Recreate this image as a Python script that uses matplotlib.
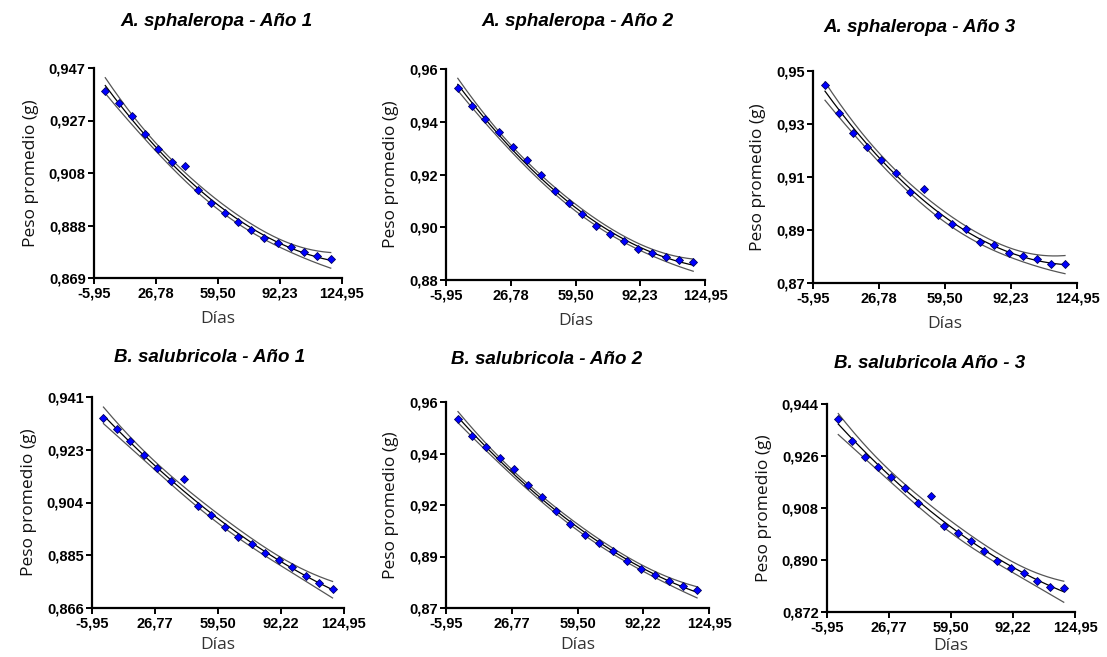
import numpy as np
import matplotlib
matplotlib.use("Agg")
import matplotlib.pyplot as plt

# sampling days (same for every panel)
dias = [0, 7, 14, 21, 28, 35, 42, 49, 56, 63, 70, 77, 84, 91, 98, 105, 112, 119]

# mean weight (g)
sph_1 = [0.9383, 0.9340, 0.9293, 0.9224, 0.9169, 0.9120, 0.9105, 0.9017, 0.8970,
         0.8933, 0.8897, 0.8868, 0.8839, 0.8821, 0.8804, 0.8785, 0.8770, 0.8762]
sph_2 = [0.9528, 0.9461, 0.9410, 0.9362, 0.9306, 0.9254, 0.9197, 0.9137, 0.9092,
         0.9050, 0.9006, 0.8976, 0.8949, 0.8919, 0.8901, 0.8886, 0.8875, 0.8867]
sph_3 = [0.9446, 0.9340, 0.9267, 0.9214, 0.9166, 0.9114, 0.9045, 0.9056, 0.8955,
         0.8924, 0.8902, 0.8853, 0.8842, 0.8812, 0.8800, 0.8790, 0.8771, 0.8771]
sal_1 = [0.9334, 0.9295, 0.9252, 0.9204, 0.9158, 0.9113, 0.9120, 0.9024, 0.8989,
         0.8948, 0.8914, 0.8887, 0.8856, 0.8832, 0.8807, 0.8775, 0.8748, 0.8729]
sal_2 = [0.9524, 0.9450, 0.9403, 0.9356, 0.9306, 0.9238, 0.9185, 0.9125, 0.9065,
         0.9017, 0.8986, 0.8948, 0.8907, 0.8869, 0.8843, 0.8818, 0.8798, 0.8777]
sal_3 = [0.9388, 0.9311, 0.9256, 0.9222, 0.9188, 0.9148, 0.9097, 0.9121, 0.9019,
         0.8995, 0.8965, 0.8930, 0.8897, 0.8873, 0.8854, 0.8826, 0.8807, 0.8802]

titles = ["A. sphaleropa - Año 1", "A. sphaleropa - Año 2", "A. sphaleropa - Año 3",
          "B. salubricola - Año 1", "B. salubricola - Año 2", "B. salubricola Año - 3"]

y_limits = [(0.869, 0.947), (0.88, 0.96), (0.87, 0.95),
            (0.866, 0.941), (0.87, 0.96), (0.872, 0.944)]
y_ticklabels = [
    ["0,869", "0,888", "0,908", "0,927", "0,947"],
    ["0,88", "0,90", "0,92", "0,94", "0,96"],
    ["0,87", "0,89", "0,91", "0,93", "0,95"],
    ["0,866", "0,885", "0,904", "0,923", "0,941"],
    ["0,87", "0,89", "0,92", "0,94", "0,96"],
    ["0,872", "0,890", "0,908", "0,926", "0,944"],
]
x_limits = (-5.95, 124.95)
x_ticklabels_top = ["-5,95", "26,78", "59,50", "92,23", "124,95"]
x_ticklabels_bot = ["-5,95", "26,77", "59,50", "92,22", "124,95"]

# axes boxes in pixels: left, top, right, bottom
W, H = 1107, 657
boxes = [(94, 68, 342, 278), (446, 69, 705, 280), (813, 71, 1077, 283),
         (92, 397, 344, 608), (446, 402, 709, 608), (827, 404, 1075, 612)]
title_pos = [(216, 22), (577, 22), (919, 27), (210, 357), (547, 360), (930, 364)]
xlabel_pad = [8, 8, 8, 5, 5, 3]

T_BAND = 3.4  # t multiplier for the confidence band of the fit


def quad_fit(x, y, grid):
    x = np.asarray(x, float)
    y = np.asarray(y, float)
    X = np.column_stack([np.ones_like(x), x, x ** 2])
    beta, *_ = np.linalg.lstsq(X, y, rcond=None)
    resid = y - X @ beta
    s = np.sqrt(resid @ resid / (len(x) - 3))
    G = np.column_stack([np.ones_like(grid), grid, grid ** 2])
    cov = np.linalg.inv(X.T @ X)
    se = s * np.sqrt(np.einsum("ij,jk,ik->i", G, cov, G))
    fit = G @ beta
    return fit, fit - T_BAND * se, fit + T_BAND * se


fig = plt.figure(figsize=(W / 100, H / 100), dpi=100)
series = [sph_1, sph_2, sph_3, sal_1, sal_2, sal_3]
grid = np.linspace(min(dias), max(dias), 200)

for i, (peso, box) in enumerate(zip(series, boxes)):
    l, t, r, b = box
    ax = fig.add_axes([l / W, 1 - b / H, (r - l) / W, (b - t) / H])
    fit, lo, hi = quad_fit(dias, peso, grid)
    ax.plot(grid, hi, color="#555555", lw=0.9)
    ax.plot(grid, lo, color="#555555", lw=0.9)
    ax.plot(grid, fit, color="black", lw=0.9)
    ax.plot(dias, peso, ls="none", marker="D", ms=4.2, mfc="#0000ff",
            mec="#000060", mew=0.6)

    ax.set_xlim(*x_limits)
    ax.set_ylim(*y_limits[i])
    ax.set_xticks(np.linspace(*x_limits, 5))
    ax.set_xticklabels(x_ticklabels_top if i < 3 else x_ticklabels_bot)
    ax.set_yticks(np.linspace(*y_limits[i], 5))
    ax.set_yticklabels(y_ticklabels[i])
    for lab in ax.get_xticklabels() + ax.get_yticklabels():
        lab.set_fontfamily("Liberation Sans")
        lab.set_fontweight("bold")
        lab.set_fontsize(10.5)
    for side in ("top", "right"):
        ax.spines[side].set_visible(False)
    for side in ("left", "bottom"):
        ax.spines[side].set_linewidth(1.6)
    ax.tick_params(direction="out", length=4, width=1.4, pad=2)
    ax.set_xlabel("Días", fontfamily="Open Sans", fontsize=12.5, color="#333333",
                  labelpad=xlabel_pad[i])
    ax.set_ylabel("Peso promedio (g)", fontfamily="Open Sans", fontsize=12.5,
                  color="#111111", labelpad=7)

    tx, ty = title_pos[i]
    fig.text(tx / W, 1 - ty / H, titles[i], ha="center", va="center",
             fontfamily="Liberation Sans", fontweight="bold", fontstyle="italic",
             fontsize=13.5)

fig.savefig("out.png", dpi=100)
